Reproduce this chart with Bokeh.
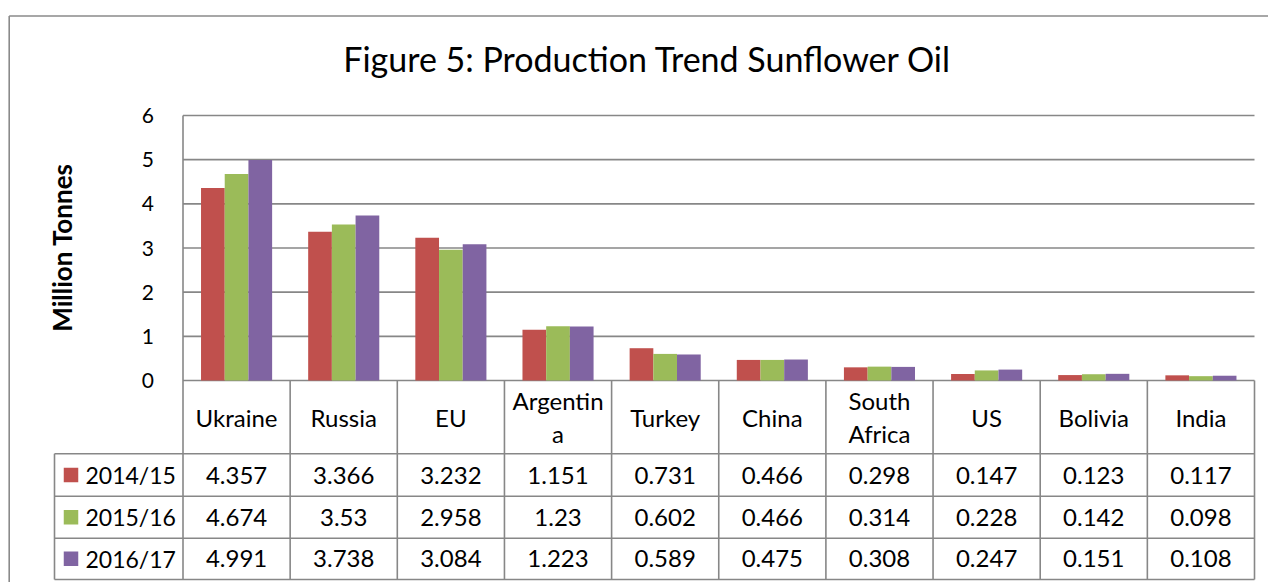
import numpy as np
from bokeh.plotting import figure
from bokeh.models import ColumnDataSource, Range1d, LinearAxis, FixedTicker
from bokeh.core.properties import value
from bokeh.embed import file_html
from bokeh.resources import INLINE

# ---------------- data ----------------
categories = ["Ukraine", "Russia", "EU", "Argentin\na", "Turkey", "China",
              "South\nAfrica", "US", "Bolivia", "India"]
series_names = ["2014/15", "2015/16", "2016/17"]
v_2014_15 = [4.357, 3.366, 3.232, 1.151, 0.731, 0.466, 0.298, 0.147, 0.123, 0.117]
v_2015_16 = [4.674, 3.53, 2.958, 1.23, 0.602, 0.466, 0.314, 0.228, 0.142, 0.098]
v_2016_17 = [4.991, 3.738, 3.084, 1.223, 0.589, 0.475, 0.308, 0.247, 0.151, 0.108]
y_ticks = [0, 1, 2, 3, 4, 5, 6]
title_text = "Figure 5: Production Trend Sunflower Oil"
y_label_text = "Million Tonnes"

series_values = [v_2014_15, v_2015_16, v_2016_17]
colors = ["#C0504D", "#9BBB59", "#8064A2"]

# ---------------- layout (image pixels) ----------------
W, H = 1268, 582
IX0, IY0 = 0, 0
PL, PR = 182.5, 1254.0
PT, PB = 115.0, 380.0
n = len(categories)
CW = (PR - PL) / n
U = (PB - PT) / y_ticks[-1]
ROW_LINES = [453.3, 495.7, 537.7, 579.0]
TABLE_LEFT = 54.0
LINE_C = "#878787"
FONT = "Lato"


def X(px):
    return (px - PL) / CW


def Y(py):
    return (PB - py) / U


p = figure(width=W, height=H,
           x_range=Range1d(X(IX0), X(IX0 + W)),
           y_range=Range1d(Y(IY0 + H), Y(IY0)),
           output_backend="svg", toolbar_location=None,
           x_axis_type=None, y_axis_type=None, min_border=0,
           outline_line_color=None, background_fill_color="white",
           border_fill_color="white")

# outer chart border (left & top)
p.segment(x0=[X(8.7), X(8.7)], y0=[Y(15.5), Y(15.5)], x1=[X(8.7), X(IX0 + W)],
          y1=[Y(IY0 + H), Y(15.5)], line_color="#8a8a8a", line_width=1.6)

# gridlines
p.segment(x0=[0] * len(y_ticks), x1=[n] * len(y_ticks), y0=y_ticks, y1=y_ticks,
          line_color=LINE_C, line_width=1.6)

# bars
BW = 23.7 / CW
xs = np.arange(n) + 0.5
for k, (vals, col) in enumerate(zip(series_values, colors)):
    src = ColumnDataSource(dict(x=xs + (k - 1) * BW, top=vals))
    p.vbar(x="x", top="top", bottom=0, width=BW, source=src,
           fill_color=col, line_color=None)

# y axis (real axis at x = 0)
ax = LinearAxis(fixed_location=0, ticker=FixedTicker(ticks=y_ticks),
                axis_line_color=None, major_tick_line_color=None,
                minor_tick_line_color=None, major_label_standoff=23,
                major_label_text_font=FONT, major_label_text_font_size="21px",
                major_label_text_color="black")
p.add_layout(ax, "left")

# axis line / table verticals
vx0 = list(range(n + 1))
vy0 = [y_ticks[-1]] + [0] * n
vy1 = [Y(ROW_LINES[-1])] * (n + 1)
vx0.append(X(TABLE_LEFT)); vy0.append(Y(ROW_LINES[0])); vy1.append(Y(ROW_LINES[-1]))
p.segment(x0=vx0, x1=vx0, y0=vy0, y1=vy1, line_color=LINE_C, line_width=1.6)

# table horizontals
p.segment(x0=[X(TABLE_LEFT)] * len(ROW_LINES), x1=[n] * len(ROW_LINES),
          y0=[Y(r) for r in ROW_LINES], y1=[Y(r) for r in ROW_LINES],
          line_color=LINE_C, line_width=1.6)

TXT = dict(text_font=value(FONT), text_color="black", text_baseline="middle")

# category labels
cx, cy, ct = [], [], []
for i, c in enumerate(categories):
    lines = c.split("\n")
    if len(lines) == 1:
        mids = [416.5]
    else:
        mids = [400.0, 433.4]
    for ln, m in zip(lines, mids):
        cx.append(i + 0.5); cy.append(Y(m)); ct.append(ln)
p.text(x=cx, y=cy, text=ct, text_align="center", text_font_size="24px", **TXT)

# table values
row_centers = [(ROW_LINES[r] + ROW_LINES[r + 1]) / 2 for r in range(3)]
tx, ty, tt = [], [], []
for r, vals in enumerate(series_values):
    for i, v in enumerate(vals):
        tx.append(i + 0.5); ty.append(Y(row_centers[r])); tt.append(f"{v:g}")
p.text(x=tx, y=ty, text=tt, text_align="center", text_font_size="24px", **TXT)

# legend keys and series names
p.scatter(x=[X(70.5)] * 3, y=[Y(c) for c in row_centers], marker="square",
          size=14.5, fill_color=colors, line_color=None)
p.text(x=[X(85)] * 3, y=[Y(c) for c in row_centers], text=series_names,
       text_align="left", text_font_size="23px", **TXT)

# title
p.text(x=[X(647)], y=[Y(58)], text=[title_text], text_align="center",
       text_font_size="34px", **TXT)

# y axis label
p.text(x=[X(61)], y=[Y(247)], text=[y_label_text], angle=np.pi / 2,
       text_align="center", text_font_size="26px", text_font_style="bold", **TXT)

open("out.html", "w").write(file_html(p, INLINE))
